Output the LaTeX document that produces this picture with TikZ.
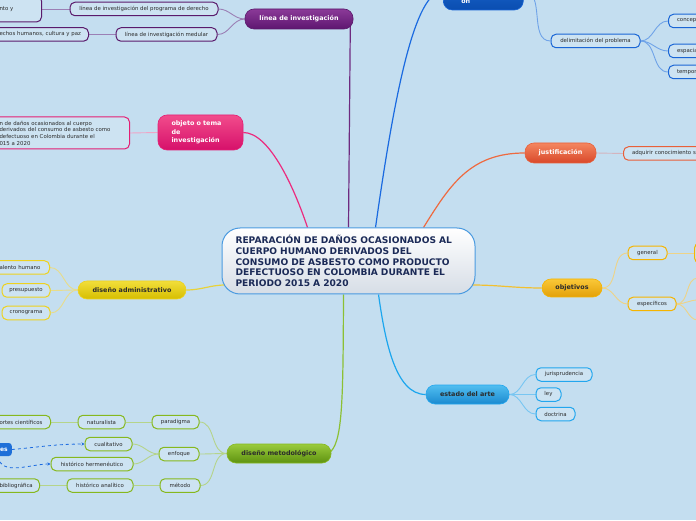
\documentclass[tikz,border=0pt]{standalone}
\usepackage{fontspec}
\setmainfont{DejaVu Sans}
\usetikzlibrary{arrows.meta,calc,backgrounds}
\definecolor{bgc}{HTML}{C4DEF0}\definecolor{navy}{HTML}{1B2A57}\definecolor{txt}{HTML}{2B2B2B}
\definecolor{cbor}{HTML}{4A9AE0}\definecolor{cbot}{HTML}{D6DDE6}
\definecolor{purT}{HTML}{8B3A98}\definecolor{purB}{HTML}{5E1670}\definecolor{purD}{HTML}{5A1A6C}\definecolor{purL}{HTML}{6E2A80}\definecolor{purS}{HTML}{9B7FB5}
\definecolor{bluT}{HTML}{1F6FD8}\definecolor{bluB}{HTML}{0A4DB0}\definecolor{bluD}{HTML}{1A66D6}\definecolor{bluL}{HTML}{1A6AE0}\definecolor{bluS}{HTML}{6FA3E8}
\definecolor{orT}{HTML}{F48660}\definecolor{orB}{HTML}{D9482A}\definecolor{orD}{HTML}{E8603A}\definecolor{orL}{HTML}{EE6A40}\definecolor{orS}{HTML}{D4B4BE}
\definecolor{goT}{HTML}{FAC838}\definecolor{goB}{HTML}{E3A008}\definecolor{goD}{HTML}{F5B400}\definecolor{goL}{HTML}{F2C030}\definecolor{goS}{HTML}{EED387}
\definecolor{skT}{HTML}{52BEF0}\definecolor{skB}{HTML}{1A8AD0}\definecolor{skD}{HTML}{22A6EE}\definecolor{skL}{HTML}{1CA6EE}\definecolor{skS}{HTML}{78C6F2}
\definecolor{grT}{HTML}{9ACB3C}\definecolor{grB}{HTML}{5E9210}\definecolor{grD}{HTML}{86B81E}\definecolor{grL}{HTML}{8CC034}\definecolor{grS}{HTML}{B5D48A}
\definecolor{yeT}{HTML}{F2DE3A}\definecolor{yeB}{HTML}{D6BE00}\definecolor{yeD}{HTML}{EED21E}\definecolor{yeL}{HTML}{E8D23A}\definecolor{yeS}{HTML}{E8DC8A}
\definecolor{piT}{HTML}{F24C8C}\definecolor{piB}{HTML}{D6106A}\definecolor{piD}{HTML}{E41E74}\definecolor{piL}{HTML}{EC2A7E}\definecolor{piS}{HTML}{F0A4C6}
\tikzset{
leaf/.style={draw=#1,line width=1pt,rounded corners=5pt,fill=bgc!85!white,minimum height=13.5pt,inner sep=1pt,text=txt,font=\fontsize{5.4}{6.7}\selectfont},
lcut/.style={leaf=#1,anchor=east,align=left,inner xsep=5pt},
rcut/.style={leaf=#1,anchor=west,align=left,inner xsep=8.5pt,text width=80pt},
topic/.style={line width=.6pt,rounded corners=9pt,minimum height=19pt,inner sep=1pt,font=\fontsize{6.4}{8.3}\selectfont\bfseries},
tpur/.style={topic,top color=purT,bottom color=purB,draw=purD,text=white},
tblu/.style={topic,top color=bluT,bottom color=bluB,draw=bluD,text=white},
tor/.style={topic,top color=orT,bottom color=orB,draw=orD,text=white},
tgo/.style={topic,top color=goT,bottom color=goB,draw=goD,text=txt},
tsk/.style={topic,top color=skT,bottom color=skB,draw=skD,text=txt},
tgr/.style={topic,top color=grT,bottom color=grB,draw=grD,text=txt},
tye/.style={topic,top color=yeT,bottom color=yeB,draw=yeD,text=txt},
tpi/.style={topic,top color=piT,bottom color=piB,draw=piD,text=white},
limb/.style={draw=#1,line width=1.2pt},
twig/.style={draw=#1,line width=.9pt}
}
\begin{document}
\begin{tikzpicture}[x=1pt,y=1pt]
\useasboundingbox(0,0)rectangle(696,520);
\node[top color=white,bottom color=cbot,draw=cbor,line width=1pt,rounded corners=18pt,minimum width=253pt,minimum height=66pt,inner xsep=13.5pt,text width=226pt,align=left,text=navy,font=\fontsize{9.1}{10.7}\selectfont\bfseries](c)at(348.5,259){REPARACIÓN DE DAÑOS OCASIONADOS AL\\CUERPO HUMANO DERIVADOS DEL\\CONSUMO DE ASBESTO COMO PRODUCTO\\DEFECTUOSO EN COLOMBIA DURANTE EL\\PERIODO 2015 A 2020};
\node[tpur,minimum width=108pt,minimum height=20pt](lin)at(299,501){línea de investigación};
\node[leaf=purD,minimum width=148pt](lin1)at(144,511){línea de investigación del programa de derecho};
\node[leaf=purD,minimum width=101pt](lin2)at(166.5,485.5){línea de investigación medular};
\node[lcut=purD,text width=37pt,minimum height=26pt](lin11)at(42,511){nto y};
\node[lcut=purD,text width=84pt](lin21)at(89,485.5){echos humanos, cultura y paz};
\node[tblu,anchor=base west,text width=44pt,align=left,inner xsep=18pt,inner ysep=4pt,text height=28pt,text depth=2pt](plan)at(443,516){on};
\node[leaf=bluD,minimum width=89pt](delim)at(595.5,479){delimitación del problema};
\node[rcut=bluD](con)at(668,499){concep};\node[rcut=bluD](spa)at(668,469){espacia};\node[rcut=bluD](tem)at(668,448){tempor};
\node[tor,minimum width=71pt,minimum height=20pt](just)at(560.5,367){justificación};
\node[rcut=orD](just1)at(623,366.5){adquirir conocimiento s};
\node[tgo,minimum width=60pt,minimum height=18pt](obj)at(572,232){objetivos};
\node[leaf=goD,minimum width=39pt](gen)at(647.5,267){general};
\node[leaf=goD,minimum width=48pt](esp)at(652,216){específicos};
\node[leaf=goD,anchor=west,minimum width=40pt,minimum height=20pt](gen1)at(694,267){};
\coordinate(e1)at(698,242);\coordinate(e2)at(698,220);\coordinate(e3)at(698,200);
\node[tsk,minimum width=83pt](art)at(467.5,125.5){estado del arte};
\node[leaf=skD,minimum width=56pt](jur)at(564,145.5){jurisprudencia};
\node[leaf=skD,minimum width=25pt](ley)at(548.5,125.5){ley};
\node[leaf=skD,minimum width=39pt](doc)at(555.5,106){doctrina};
\node[tgr,minimum width=104pt](met)at(279,66.5){diseño metodológico};
\node[leaf=grD,minimum width=47pt](par)at(175.5,98){paradigma};
\node[leaf=grD,minimum width=40pt](enf)at(179,66){enfoque};
\node[leaf=grD,minimum width=40pt](meto)at(180,34.5){método};
\node[leaf=grD,minimum width=47pt](nat)at(101.5,98){naturalista};
\node[leaf=grD,minimum width=47pt](cual)at(108.5,76){cualitativo};
\node[leaf=grD,minimum width=82pt](herm)at(92,56){histórico hermenéutico};
\node[leaf=grD,minimum width=66pt](han)at(100,34.5){histórico analítico};
\node[lcut=grD,text width=46pt](cient)at(51,98){ortes científicos};
\node[lcut=grD,text width=35pt](bib)at(40,34.5){bibliográfica};
\node[fill=bluT,rounded corners=3pt,anchor=east,inner xsep=4pt,minimum height=13pt,text width=20pt,align=right,text=white,font=\fontsize{6}{7}\selectfont\bfseries](fue)at(12,70.5){es};
\node[tye,minimum width=108pt,minimum height=18pt](adm)at(132,230){diseño administrativo};
\node[lcut=yeD,text width=45pt](tal)at(50,252.5){alento humano};
\node[leaf=yeD,minimum width=48pt](pre)at(26,229.5){presupuesto};
\node[leaf=yeD,minimum width=48pt](cro)at(26,207){cronograma};
\node[tpi,minimum width=85pt,minimum height=35pt,text width=58pt,inner xsep=13.5pt,align=left](obt)at(200.5,387.5){objeto o tema\\de\\investigación};
\node[lcut=piD,text width=125pt,minimum height=32pt,font=\fontsize{5.4}{6.7}\selectfont](obt1)at(130,387){n de daños ocasionados al cuerpo\\derivados del consumo de asbesto como\\defectuoso en Colombia durante el\\015 a 2020};
\begin{scope}[on background layer]
\fill[bgc](0,0)rectangle(696,520);
\draw[limb=purL](c.north)--($(lin.south east)+(-3,4)$);
\draw[limb=bluL]($(c.north)+(27,0)$)..controls(395,430)and(415,529)..(plan.west);
\draw[limb=orL]($(c.north)+(75,0)$)..controls(450,335)and(470,367)..(just.west);
\draw[limb=goL]($(c.east)+(-4,-24)$)to[out=0,in=180](obj.west);
\draw[limb=skL]($(c.south)+(30,0)$)..controls(385,180)and(395,125.5)..(art.west);
\draw[limb=grL]($(c.south)+(-5,0)$)..controls(343,120)and(343,75)..($(met.east)+(-3,0)$);
\draw[limb=yeL]($(c.west)+(4,-24)$)to[out=180,in=0](adm.east);
\draw[limb=piL](obt.east)..controls(270,387.5)and(295,330)..($(c.north)+(-41,0)$);
\draw[twig=purS](lin.west)to[out=180,in=0](lin1.east);\draw[twig=purS](lin.west)to[out=180,in=0](lin2.east);
\draw[twig=purS](lin1.west)--(lin11.east);\draw[twig=purS](lin2.west)--(lin21.east);
\draw[twig=bluS](plan.east)to[out=0,in=180](delim.west);
\draw[twig=bluS](delim.east)to[out=0,in=180](con.west);\draw[twig=bluS](delim.east)to[out=0,in=180](spa.west);\draw[twig=bluS](delim.east)to[out=0,in=180](tem.west);
\draw[twig=orS](just.east)--(just1.west);
\draw[twig=goS](obj.east)to[out=0,in=180](gen.west);\draw[twig=goS](obj.east)to[out=0,in=180](esp.west);\draw[twig=goS](gen.east)--(gen1.west);
\draw[twig=goS](esp.east)to[out=0,in=180](e1);\draw[twig=goS](esp.east)to[out=0,in=180](e2);\draw[twig=goS](esp.east)to[out=0,in=180](e3);
\draw[twig=skS](art.east)to[out=0,in=180](jur.west);\draw[twig=skS](art.east)to[out=0,in=180](ley.west);\draw[twig=skS](art.east)to[out=0,in=180](doc.west);
\draw[twig=grS](met.west)to[out=180,in=0](par.east);\draw[twig=grS](met.west)to[out=180,in=0](enf.east);\draw[twig=grS](met.west)to[out=180,in=0](meto.east);
\draw[twig=grS](par.west)--(nat.east);\draw[twig=grS](nat.west)--(cient.east);
\draw[twig=grS](enf.west)to[out=180,in=0](cual.east);\draw[twig=grS](enf.west)to[out=180,in=0](herm.east);
\draw[twig=grS](meto.west)--(han.east);\draw[twig=grS](han.west)--(bib.east);
\draw[twig=yeS](adm.west)to[out=180,in=0](tal.east);\draw[twig=yeS](adm.west)to[out=180,in=0](pre.east);\draw[twig=yeS](adm.west)to[out=180,in=0](cro.east);
\draw[twig=piS](obt.west)--(obt1.east);
\end{scope}
\draw[dashed,bluL,line width=.8pt,-{Stealth[length=3pt,width=3pt]}](fue.east)to[out=5,in=180](cual.west);
\draw[dashed,bluL,line width=.8pt,-{Stealth[length=3pt,width=3pt]}](fue.south)to[out=-80,in=180](herm.west);
\end{tikzpicture}
\end{document}
